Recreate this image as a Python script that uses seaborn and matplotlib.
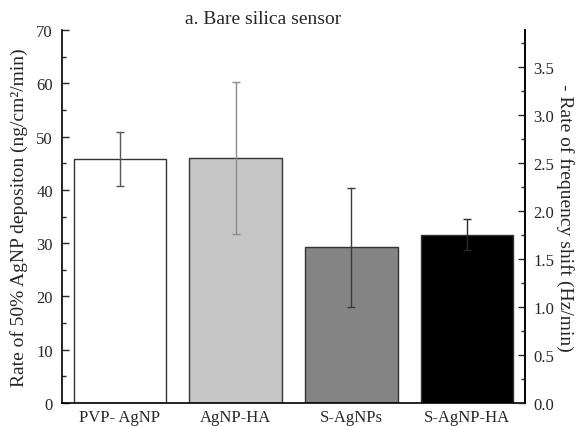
import matplotlib
matplotlib.use("Agg")
import matplotlib.pyplot as plt
import seaborn as sns
import pandas as pd
import numpy as np
from matplotlib.ticker import MultipleLocator

categories = ["PVP- AgNP", "AgNP-HA", "S-AgNPs", "S-AgNP-HA"]
rates = [45.8, 46.0, 29.2, 31.6]
err_low = [40.7, 31.7, 18.0, 28.7]
err_high = [50.9, 60.3, 40.3, 34.5]
bar_colors = ["#ffffff", "#c6c6c6", "#848484", "#000000"]
err_colors = ["#555555", "#8a8a8a", "#3a3a3a", "#2a2a2a"]

sns.set_style("ticks")
plt.rcParams["font.family"] = ["Liberation Serif", "DejaVu Serif"]

df = pd.DataFrame({"cat": categories, "rate": rates})

fig = plt.figure(figsize=(5.76, 4.27), dpi=100)
ax = fig.add_axes([62 / 576, 1 - 404 / 427, (525 - 62) / 576, (404 - 31) / 427])

sns.barplot(data=df, x="cat", y="rate", hue="cat", palette=bar_colors,
            order=categories, hue_order=categories, errorbar=None,
            width=0.8, edgecolor="#333333", linewidth=1.0, legend=False, ax=ax)

for i, (v, lo, hi) in enumerate(zip(rates, err_low, err_high)):
    ax.errorbar(i, v, yerr=[[v - lo], [hi - v]], fmt="none",
                ecolor=err_colors[i], elinewidth=1.0, capsize=2.6, capthick=1.0)

ax.set_xlim(-0.5, 3.5)
ax.set_ylim(0, 70)
ax.yaxis.set_major_locator(MultipleLocator(10))
ax.yaxis.set_minor_locator(MultipleLocator(5))
ax.tick_params(axis="y", which="both", direction="in", labelsize=12, width=1.0, pad=6.5)
ax.tick_params(axis="y", which="major", length=5)
ax.tick_params(axis="y", which="minor", length=3)
ax.tick_params(axis="x", length=0, labelsize=12, pad=4)
ax.set_xlabel("")
ax.set_ylabel("Rate of 50% AgNP depositon (ng/cm²/min)", fontsize=14, labelpad=6)

for s in ["left", "bottom", "right"]:
    ax.spines[s].set_linewidth(1.2)
    ax.spines[s].set_color("black")
ax.spines["top"].set_visible(False)

ax2 = ax.twinx()
ax2.set_ylim(0, 3.89)
ax2.yaxis.set_major_locator(MultipleLocator(0.5))
ax2.yaxis.set_minor_locator(MultipleLocator(0.25))
ax2.yaxis.set_major_formatter(matplotlib.ticker.FormatStrFormatter("%.1f"))
ax2.tick_params(axis="y", which="both", direction="in", labelsize=12, width=1.0, pad=6)
ax2.tick_params(axis="y", which="major", length=5)
ax2.tick_params(axis="y", which="minor", length=3)
ax2.set_ylabel("- Rate of frequency shift (Hz/min)", fontsize=14, rotation=270, labelpad=14)
for s in ["left", "top", "bottom"]:
    ax2.spines[s].set_visible(False)
ax2.spines["right"].set_linewidth(1.2)
ax2.spines["right"].set_color("black")

fig.text(263 / 576, 1 - 20 / 427, "a. Bare silica sensor", ha="center", va="center", fontsize=14)

fig.savefig("out.png", dpi=100)
